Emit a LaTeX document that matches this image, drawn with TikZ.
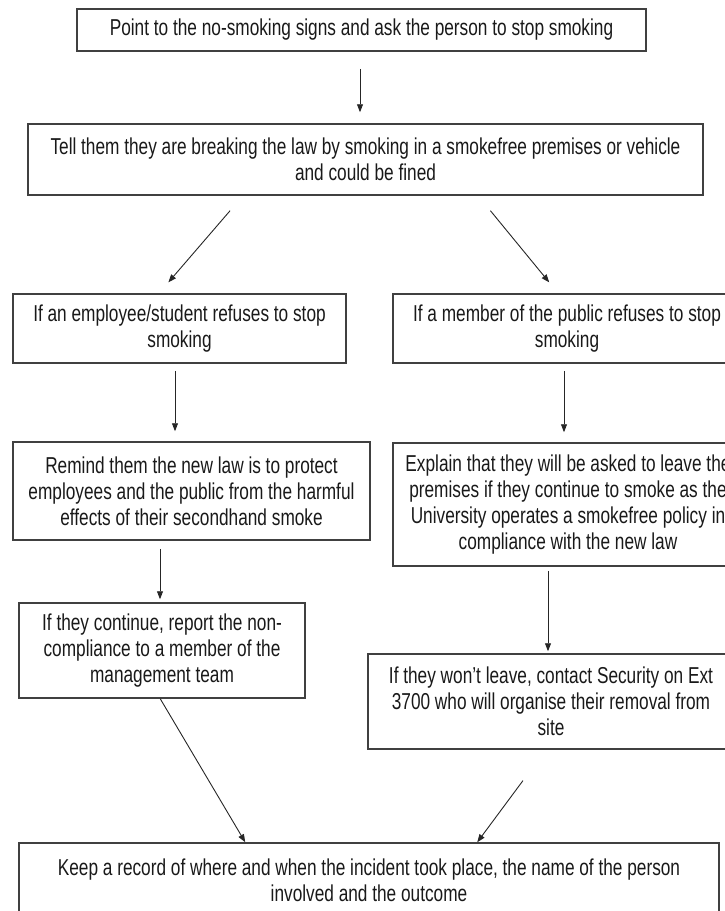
\documentclass[tikz,border=0pt]{standalone}
\usepackage{fontspec}
\setmainfont{Liberation Sans}[FakeStretch=0.75]
\usepackage{tikz}
\usetikzlibrary{arrows.meta}
\tikzset{stage/.style={rectangle, draw=black!75, line width=1.5pt, align=center, inner sep=0pt, text=black!90, font=\fontsize{23pt}{26pt}\selectfont},
  arrow/.style={-{Triangle[length=8pt, width=6pt]}, line width=0.9pt, draw=black!85}
}

\begin{document}
\begin{tikzpicture}[x=1pt, y=-1pt]
          \useasboundingbox (0,0) rectangle (725,911);
          % Top
          \node[stage, minimum width=569, minimum height=42] (point) at (361.5,30) {Point to the no-smoking signs and ask the person to stop smoking};
          \node[stage, minimum width=675, minimum height=71] (law) at (365.5,159.5) {Tell them they are breaking the law by smoking in a smokefree premises or vehicle\\ and could be fined};
          % Two branches
          \node[stage, minimum width=333, minimum height=69] (staff) at (179.5,328.5) {If an employee/student refuses to stop\\ smoking};
          \node[stage, minimum width=348, minimum height=69] (public) at (567,328.5) {If a member of the public refuses to stop\\ smoking};
          \node[stage, minimum width=357, minimum height=98] (remind) at (191.5,491) {Remind them the new law is to protect\\ employees and the public from the harmful\\ effects of their secondhand smoke};
          \node[stage, minimum width=350, minimum height=123] (explain) at (568,504.5) {Explain that they will be asked to leave the\\ premises if they continue to smoke as the\\ University operates a smokefree policy in\\ compliance with the new law};
          \node[stage, minimum width=286, minimum height=95] (report) at (162,650.5) {If they continue, report the non-\\ compliance to a member of the\\ management team};
          \node[stage, minimum width=366, minimum height=95] (security) at (551,701.5) {If they won't leave, contact Security on Ext\\ 3700 who will organise their removal from\\ site};
          % Bottom
          \node[stage, minimum width=700, minimum height=74] (record) at (369,880) {Keep a record of where and when the incident took place, the name of the person\\ involved and the outcome};
          % Connections
          \draw[arrow, shorten <=17pt, shorten >=11pt] ([xshift=-1.5pt]point.south) -- ([xshift=-5.5pt]law.north);
          \draw[arrow, shorten <=19.7pt, shorten >=14.4pt] ([xshift=215.7pt]law.south west) -- ([xshift=146.7pt]staff.north west);
          \draw[arrow, shorten <=19.3pt, shorten >=14.1pt] ([xshift=450.9pt]law.south west) -- ([xshift=165.9pt]public.north west);
          \draw[arrow, shorten <=7pt, shorten >=10pt] ([xshift=-4.5pt]staff.south) -- ([xshift=-16.5pt]remind.north);
          \draw[arrow, shorten <=7pt, shorten >=10pt] ([xshift=-3pt]public.south) -- ([xshift=-4pt]explain.north);
          \draw[arrow, shorten <=8pt, shorten >=3pt] ([xshift=-31.5pt]remind.south) -- ([xshift=-2pt]report.north);
          \draw[arrow, shorten <=4pt, shorten >=2pt] ([xshift=-20pt]explain.south) -- ([xshift=-3pt]security.north);
          \draw[arrow] ([xshift=142pt]report.south west) -- ([xshift=227pt]record.north west);
          \draw[arrow, shorten <=38.4pt] ([xshift=178.6pt]security.south west) -- ([xshift=459pt]record.north west);
        \end{tikzpicture}
\end{document}
